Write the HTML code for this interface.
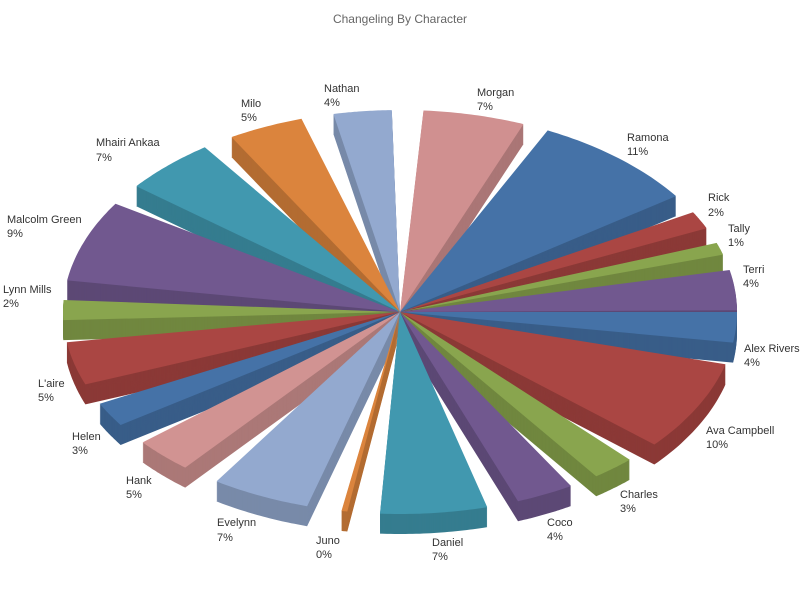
<!DOCTYPE html>
<html><head><meta charset="utf-8">
<style>
html,body{margin:0;padding:0;background:#fff;}
svg{display:block;font-family:"Liberation Sans","DejaVu Sans",sans-serif;}
</style></head>
<body>
<svg id="c" width="800" height="600" viewBox="0 0 800 600" xmlns="http://www.w3.org/2000/svg">
<rect width="800" height="600" fill="#fff"/>
<text x="400" y="23" text-anchor="middle" font-size="12" fill="#666">Changeling By Character</text>
<g id="pie"></g>
<g font-size="11" fill="#333">
<text x="324" y="92">Nathan</text><text x="324" y="106">4%</text>
<text x="477" y="96">Morgan</text><text x="477" y="110">7%</text>
<text x="627" y="141">Ramona</text><text x="627" y="155">11%</text>
<text x="708" y="201">Rick</text><text x="708" y="216">2%</text>
<text x="728" y="232">Tally</text><text x="728" y="246">1%</text>
<text x="743" y="273">Terri</text><text x="743" y="287">4%</text>
<text x="744" y="352">Alex Rivers</text><text x="744" y="366">4%</text>
<text x="706" y="434">Ava Campbell</text><text x="706" y="448">10%</text>
<text x="620" y="498">Charles</text><text x="620" y="512">3%</text>
<text x="547" y="526">Coco</text><text x="547" y="540">4%</text>
<text x="432" y="546">Daniel</text><text x="432" y="560">7%</text>
<text x="316" y="544">Juno</text><text x="316" y="558">0%</text>
<text x="217" y="526">Evelynn</text><text x="217" y="541">7%</text>
<text x="126" y="484">Hank</text><text x="126" y="498">5%</text>
<text x="72" y="440">Helen</text><text x="72" y="454">3%</text>
<text x="38" y="387">L'aire</text><text x="38" y="401">5%</text>
<text x="3" y="293">Lynn Mills</text><text x="3" y="307">2%</text>
<text x="7" y="223">Malcolm Green</text><text x="7" y="237">9%</text>
<text x="96" y="146">Mhairi Ankaa</text><text x="96" y="161">7%</text>
<text x="241" y="107">Milo</text><text x="241" y="121">5%</text>
</g>
</svg>
<script>
var cx=400,cy=312,rx=337,ry=202,D=20;
var S=[
[274,291.5,"#d09090"],[296,325,"#4572a7"],[330.4,335.5,"#aa4643"],[340,343.5,"#89a54e"],
[348,359.5,"#71588f"],[0,8.7,"#4572a7"],[15,41,"#aa4643"],[47,54.4,"#89a54e"],
[59.5,69.5,"#71588f"],[75,93.4,"#4198af"],[99,100,"#db843d"],[106,123,"#93a9cf"],
[129.6,139.8,"#d19392"],[146,153,"#4572a7"],[159,171.4,"#aa4643"],[177.7,183.4,"#89a54e"],
[189,212.4,"#71588f"],[218.5,234.6,"#4198af"],[240,253,"#db843d"],[258.6,268.6,"#93a9cf"]];
function dark(h,f){var n=parseInt(h.slice(1),16);var r=(n>>16)*f|0,g=((n>>8)&255)*f|0,b=(n&255)*f|0;return "rgb("+r+","+g+","+b+")";}
function path(a0,a1,dy){var p="M"+cx+","+(cy+dy);for(var a=a0;a<=a1+0.001;a+=(a1-a0)/30||1){var t=a*Math.PI/180;p+=" L"+(cx+rx*Math.cos(t)).toFixed(1)+","+(cy+dy+ry*Math.sin(t)).toFixed(1);}return p+"Z";}
S.sort(function(a,b){var m=function(s){return Math.sin((s[0]+s[1])/2*Math.PI/180);};return m(a)-m(b);});
var g=document.getElementById("pie"),h="";
S.forEach(function(s){var dc=dark(s[2],0.82);for(var d=D;d>0;d-=1)h+='<path d="'+path(s[0],s[1],d)+'" fill="'+dc+'"/>';h+='<path d="'+path(s[0],s[1],0)+'" fill="'+s[2]+'"/>';});
g.innerHTML=h;
</script>
</body></html>
